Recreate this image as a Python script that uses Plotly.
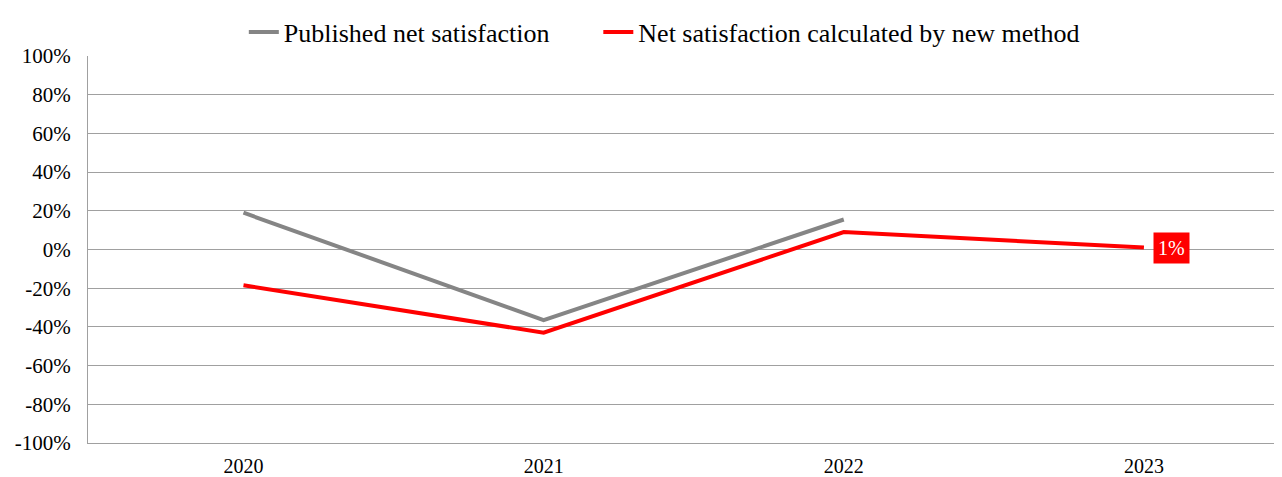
import plotly.graph_objects as go

years = ["2020", "2021", "2022", "2023"]
published = [0.19, -0.365, 0.155, None]
new_method = [-0.185, -0.43, 0.09, 0.01]
tick_vals = [-1.0, -0.8, -0.6, -0.4, -0.2, 0.0, 0.2, 0.4, 0.6, 0.8, 1.0]
tick_text = ["-100%", "-80%", "-60%", "-40%", "-20%", "0%", "20%", "40%", "60%", "80%", "100%"]
label_text = "1%"

serif = "Times New Roman, Liberation Serif, serif"

fig = go.Figure()
fig.add_trace(go.Scatter(x=years, y=published, mode="lines", name="Published net satisfaction",
                         line=dict(color="#858585", width=4), legend="legend"))
fig.add_trace(go.Scatter(x=years, y=new_method, mode="lines", name="Net satisfaction calculated by new method",
                         line=dict(color="#ff0000", width=4), legend="legend2"))

fig.add_annotation(x=3, y=new_method[3], xref="x", yref="y", text=label_text, showarrow=False,
                   xanchor="left", yanchor="middle", xshift=9,
                   bgcolor="#ff0000", font=dict(color="white", size=20, family=serif),
                   borderpad=4)

legend_common = dict(orientation="h", xanchor="left", y=1.062, yanchor="middle",
                     font=dict(size=26, family=serif), bgcolor="rgba(0,0,0,0)")

fig.update_layout(
    width=1274, height=469,
    margin=dict(l=80, r=0, t=48, b=34),
    paper_bgcolor="white", plot_bgcolor="white",
    font=dict(family=serif, color="black", size=20),
    showlegend=True,
    legend=dict(x=0.1305, **legend_common),
    legend2=dict(x=0.4274, **legend_common),
    xaxis=dict(type="category", range=[-0.518, 3.46], showgrid=False, showline=True,
               linecolor="#a0a0a0", linewidth=1, ticks="", ticklabelstandoff=5,
               tickfont=dict(size=20, family=serif)),
    yaxis=dict(range=[-1.0, 1.0], tickvals=tick_vals, ticktext=tick_text,
               showgrid=True, gridcolor="#a0a0a0", gridwidth=1, zeroline=False,
               showline=True, linecolor="#a0a0a0", linewidth=1, ticks="", ticklabelstandoff=12,
               tickfont=dict(size=21, family=serif)),
)

fig.write_html("out.html")
